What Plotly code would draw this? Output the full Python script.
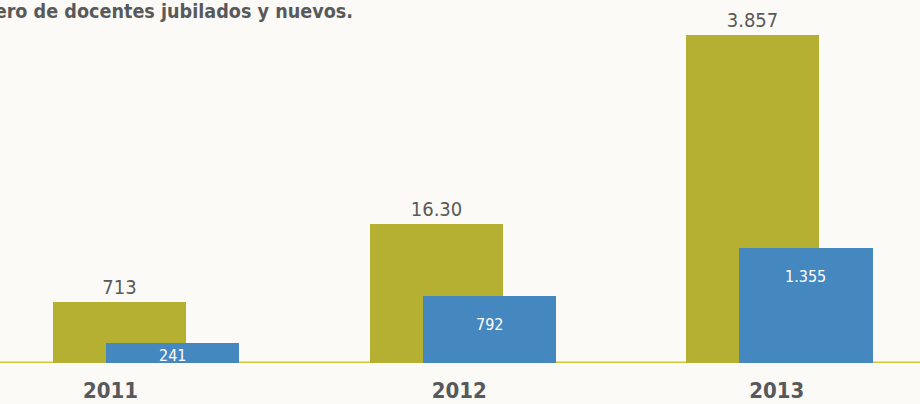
import plotly.graph_objects as go

years = ["2011", "2012", "2013"]
jubilados = [713, 1630, 3857]
jubilados_labels = ["713", "16.30", "3.857"]
nuevos = [241, 792, 1355]
nuevos_labels = ["241", "792", "1.355"]
title_text = "Número de docentes jubilados y nuevos."

FONT = "DejaVu Sans Condensed, Roboto, sans-serif"
GRAY = "#58595b"
OLIVE = "#b6b032"
BLUE = "#4587bf"
LINE = "#d2c83a"

x = list(range(len(years)))
W = 0.42
YMAX = 4268
PLOT_H = 363

fig = go.Figure()
fig.add_trace(go.Bar(
    x=x, y=jubilados, width=W, offset=-0.2935,
    marker=dict(color=OLIVE, line=dict(width=0)),
    text=jubilados_labels, textposition="outside", cliponaxis=False,
    textfont=dict(family=FONT, size=20, color=GRAY),
    hoverinfo="skip",
))
fig.add_trace(go.Bar(
    x=x, y=nuevos, width=W, offset=-0.126,
    marker=dict(color=BLUE, line=dict(width=0)),
    hoverinfo="skip",
))

annotations = []
px_per_unit = PLOT_H / YMAX
for xi, v, lab in zip(x, nuevos, nuevos_labels):
    h = v * px_per_unit
    shift = -min(17, h - 19)
    annotations.append(dict(
        x=xi + 0.084, y=v, xref="x", yref="y", text=lab, showarrow=False,
        yanchor="top", xanchor="center", yshift=shift,
        font=dict(family=FONT, size=16, color="#ffffff"),
    ))

annotations.append(dict(
    x=(361 - 10) / 910, y=1.0, xref="paper", yref="paper",
    xanchor="right", yanchor="top", yshift=2, showarrow=False,
    text="<b>" + title_text + "</b>",
    font=dict(family=FONT, size=19.6, color=GRAY),
))

label_offsets = [-0.112, -0.011, -0.008]
fig.update_layout(
    width=920, height=404,
    margin=dict(l=0, r=0, t=0, b=41, pad=0),
    paper_bgcolor="#fbfaf6", plot_bgcolor="rgba(0,0,0,0)",
    barmode="overlay", showlegend=False,
    bargap=0,
    annotations=annotations,
    shapes=[dict(type="line", xref="paper", yref="y", x0=0, x1=1, y0=0, y1=0,
                 line=dict(color=LINE, width=3), layer="below")],
    xaxis=dict(domain=[10 / 920, 1], range=[-0.4294, 2.444],
               tickmode="array",
               tickvals=[xi + o for xi, o in zip(x, label_offsets)],
               ticktext=["<b>" + y + "</b>" for y in years],
               showgrid=False, zeroline=False, showline=False,
               ticks="", ticklabelstandoff=12,
               tickfont=dict(family=FONT, size=22, color=GRAY),
               fixedrange=True),
    yaxis=dict(range=[0, YMAX], visible=False, fixedrange=True),
)

fig.write_html("out.html")
